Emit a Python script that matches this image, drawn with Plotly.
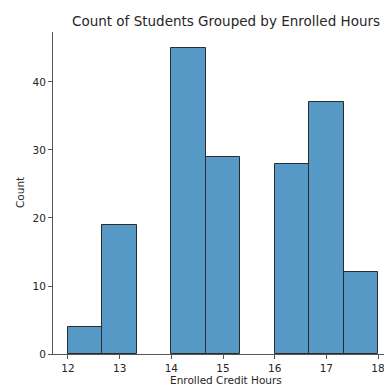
import numpy as np
import plotly.graph_objects as go

# histogram bins (Enrolled Credit Hours) and counts
bin_edges = [12.0, 12.667, 13.333, 14.0, 14.667, 15.333, 16.0, 16.667, 17.333, 18.0]
counts = [4, 19, 0, 45, 29, 0, 28, 37, 12]
x_ticks = [12, 13, 14, 15, 16, 17, 18]
y_ticks = [0, 10, 20, 30, 40]

edges = np.array(bin_edges)
centers = (edges[:-1] + edges[1:]) / 2
widths = np.diff(edges)

FONT = 'DejaVu Sans'
TXT = '#262626'

# page body has an 8px margin; the visible area ends near x=384
W, H = 376, 379
PW, PH = W - 45, H - 24 - 33

fig = go.Figure(go.Bar(
    x=centers, y=counts, width=widths,
    marker=dict(color='rgb(86,153,199)',
                line=dict(color='#2b2b2b', width=[1 if c > 0 else 0 for c in counts])),
    hovertemplate='%{x:.2f}<br>%{y}<extra></extra>'))

fig.update_layout(
    width=W, height=H, plot_bgcolor='white', paper_bgcolor='white',
    margin=dict(l=45, r=0, t=24, b=33), showlegend=False, bargap=0,
    font=dict(family=FONT, size=11, color=TXT),
    title=dict(text='Count of Students Grouped by Enrolled Hours', x=218 / W, xanchor='center',
               y=1 - 13 / H, yanchor='middle', yref='container',
               font=dict(family=FONT, size=13.5, color=TXT)),
    xaxis=dict(range=[11.71, 18.116], tickvals=x_ticks, showgrid=False, zeroline=False,
               showline=True, linecolor='#555', linewidth=1, ticks='outside', ticklen=4,
               tickcolor='#555', tickfont=dict(size=10.5), ticklabeloverflow='allow'),
    yaxis=dict(range=[0, 47.35], tickvals=y_ticks, showgrid=False, zeroline=False,
               showline=True, linecolor='#555', linewidth=1, ticks='outside', ticklen=4,
               tickcolor='#555', tickfont=dict(size=10.5)),
    annotations=[
        dict(text='Enrolled Credit Hours', xref='paper', yref='paper', x=173 / PW, y=-26 / PH,
             xanchor='center', yanchor='middle', showarrow=False, font=dict(size=10.5)),
        dict(text='Count', xref='paper', yref='paper', x=-33 / PW, y=0.5, textangle=-90,
             xanchor='center', yanchor='middle', showarrow=False, font=dict(size=10.5)),
    ])

fig.write_html('out.html')
